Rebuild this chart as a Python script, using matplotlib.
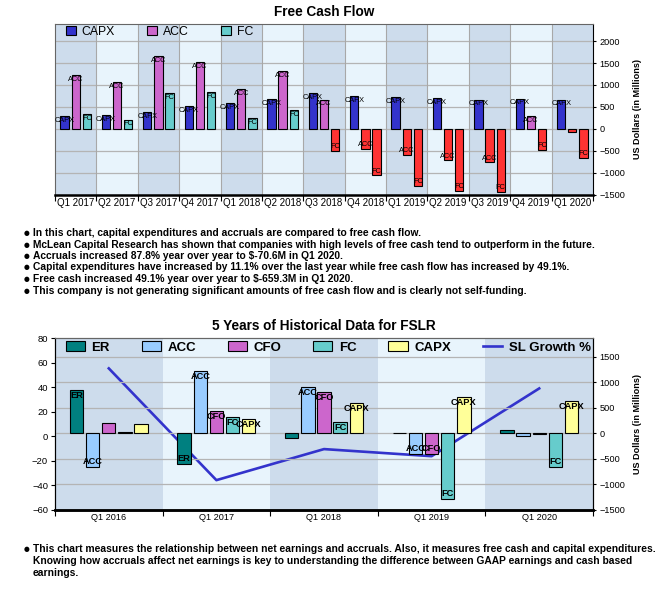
import numpy as np
import matplotlib
matplotlib.use("Agg")
import matplotlib.pyplot as plt
from matplotlib.patches import Patch
from matplotlib.lines import Line2D

plt.rcParams['font.family'] = ['Liberation Sans', 'DejaVu Sans']

# ---- data: free cash flow chart (US$ millions) ----
fcf_quarters = ['Q1 2017', 'Q2 2017', 'Q3 2017', 'Q4 2017', 'Q1 2018', 'Q2 2018', 'Q3 2018',
                'Q4 2018', 'Q1 2019', 'Q2 2019', 'Q3 2019', 'Q4 2019', 'Q1 2020']
fcf_capx = [290, 317, 385, 520, 588, 679, 815, 747, 724, 701, 663, 686, 663]
fcf_acc = [1222, 1063, 1652, 1516, 905, 1312, 663, -452, -588, -724, -769, 294, -70.6]
fcf_fc = [340, 204, 815, 837, 249, 430, -507, -1063, -1298, -1412, -1434, -484, -659.3]

# ---- data: 5 years of historical data ----
hist_periods = ['Q1 2016', 'Q1 2017', 'Q1 2018', 'Q1 2019', 'Q1 2020']
hist_er = [849, -604, -102, 0, 52]
hist_acc = [-662, 1210, 907, -405, -64]
hist_cfo = [187, 431, 797, -405, -25]
hist_fc = [10, 322, 218, -1293, -662]
hist_capx = [168, 276, 585, 714, 631]
sl_growth = [55.4, -36.0, -10.6, -16.4, 39.0]

top_notes = [
    "In this chart, capital expenditures and accruals are compared to free cash flow.",
    "McLean Capital Research has shown that companies with high levels of free cash tend to outperform in the future.",
    "Accruals increased 87.8% year over year to $-70.6M in Q1 2020.",
    "Capital expenditures have increased by 11.1% over the last year while free cash flow has increased by 49.1%.",
    "Free cash increased 49.1% year over year to $-659.3M in Q1 2020.",
    "This company is not generating significant amounts of free cash flow and is clearly not self-funding.",
]
bottom_note = ["This chart measures the relationship between net earnings and accruals. Also, it measures free cash and capital expenditures.",
               "Knowing how accruals affect net earnings is key to understanding the difference between GAAP earnings and cash based",
               "earnings."]

W, H = 661, 597
DARK, LIGHT = '#cddcec', '#e8f4fc'
GRID = '#b4b4b4'
NOTE_SIZE = 7.4

fig = plt.figure(figsize=(W / 100, H / 100), dpi=100)


def stripes(ax, n):
    for i in range(n):
        ax.axvspan(i, i + 1, color=DARK if i % 2 == 0 else LIGHT, zorder=0, lw=0)


def bar_labels(ax, xs, vals, name, thresh, off, **kw):
    for xi, v in zip(xs, vals):
        if abs(v) < thresh:
            continue
        ax.annotate(name, (xi, v), xytext=(0, -off if v > 0 else off), textcoords='offset points',
                    ha='center', va='center', zorder=5, **kw)


# ================= top chart =================
ax1 = fig.add_axes([55 / W, 1 - 194.5 / H, 538 / W, 170.5 / H])
n = len(fcf_quarters)
x = np.arange(n) + 0.5
stripes(ax1, n)
for b in range(1, n):
    ax1.axvline(b, color='#a8a8a8', lw=0.8, zorder=0.6)
ax1.set_axisbelow(True)
ax1.yaxis.grid(True, color=GRID, lw=0.9)

red = '#ff3333'
series = [(fcf_capx, 'CAPX', '#3333cc', -0.27), (fcf_acc, 'ACC', '#cc66cc', 0.0), (fcf_fc, 'FC', '#66cccc', 0.27)]
for vals, name, col, off in series:
    cols = [col if v >= 0 else red for v in vals]
    ax1.bar(x + off, vals, 0.2, color=cols, edgecolor='black', lw=0.8, zorder=3)
    bar_labels(ax1, x + off, vals, name, 100, 3, fontsize=5.3)

ax1.set_xlim(0, n)
ax1.set_ylim(-1500, 2390)
ax1.yaxis.tick_right()
ax1.set_yticks(np.arange(-1500, 2001, 500))
ax1.tick_params(axis='y', labelsize=6.6, length=2.5, pad=2)
ax1.yaxis.set_label_position('right')
ax1.set_ylabel('US Dollars (in Millions)', fontsize=6.6, fontweight='bold', labelpad=6)
ax1.set_xticks(np.arange(n + 1))
ax1.set_xticklabels([])
ax1.set_xticks(x, minor=True)
ax1.set_xticklabels(fcf_quarters, minor=True, fontsize=7)
ax1.tick_params(axis='x', which='major', length=4)
ax1.tick_params(axis='x', which='minor', length=0, pad=2.5)
for s in ['left', 'top']:
    ax1.spines[s].set_color('#666666')
    ax1.spines[s].set_linewidth(0.8)
ax1.spines['right'].set_linewidth(0.8)
ax1.spines['bottom'].set_linewidth(1.8)

h1 = [Patch(fc=c, ec='black', lw=0.8) for _, _, c, _ in series]
ax1.legend(h1, [s[1] for s in series], loc='center left', bbox_to_anchor=(10.7 / 538, 1 - 7.7 / 170.5),
           ncol=3, frameon=False, fontsize=8.8, handlelength=0.82, handleheight=0.82,
           handletextpad=0.5, columnspacing=2.6, borderpad=0, borderaxespad=0)

fig.text(324 / W, 1 - 12 / H, 'Free Cash Flow', ha='center', va='center', fontsize=9.8, fontweight='bold')

for i, line in enumerate(top_notes):
    y = 1 - (233 + i * 11.5) / H
    fig.text(27 / W, y, '\u25cf', ha='center', va='center', fontsize=4.8, family='DejaVu Sans')
    fig.text(33 / W, y, line, ha='left', va='center', fontsize=NOTE_SIZE, fontweight='bold')

# ================= bottom chart =================
ax2 = fig.add_axes([55 / W, 1 - 509.5 / H, 538 / W, 171.2 / H])
m = len(hist_periods)
xh = np.arange(m) + 0.5
stripes(ax2, m)
ax2.plot(xh, sl_growth, color='#3333cc', lw=1.9, zorder=2)
ax2.set_xlim(0, m)
ax2.set_ylim(-60, 80)
ax2.set_yticks(np.arange(-60, 81, 20))
ax2.tick_params(axis='y', labelsize=6.8, length=3, pad=2)
ax2.set_xticks(np.arange(m + 1))
ax2.set_xticklabels([])
ax2.set_xticks(xh, minor=True)
ax2.set_xticklabels(hist_periods, minor=True, fontsize=6.6)
ax2.tick_params(axis='x', which='major', length=4)
ax2.tick_params(axis='x', which='minor', length=0, pad=2.5)

ax3 = ax2.twinx()
ax3.set_ylim(-1500, 1857)
ax3.set_yticks(np.arange(-1500, 1501, 500))
ax3.tick_params(axis='y', labelsize=6.6, length=2.5, pad=2)
ax3.set_axisbelow(True)
ax3.yaxis.grid(True, color=GRID, lw=0.9)
ax3.set_ylabel('US Dollars (in Millions)', fontsize=6.6, fontweight='bold', labelpad=6)

hist_series = [(hist_er, 'ER', '#008080'), (hist_acc, 'ACC', '#99ccff'), (hist_cfo, 'CFO', '#cc66cc'),
               (hist_fc, 'FC', '#66cccc'), (hist_capx, 'CAPX', '#ffff99')]
for k, (vals, name, col) in enumerate(hist_series):
    off = (k - 2) * 0.15
    ax3.bar(xh + off, vals, 0.124, color=col, edgecolor='black', lw=0.8, zorder=3)
    bar_labels(ax3, xh + off, vals, name, 200, 4, fontsize=6.7, fontweight='bold')

for a in (ax2, ax3):
    for s in ['left', 'right', 'top']:
        a.spines[s].set_linewidth(0.8)
    a.spines['top'].set_color('#666666')
    a.spines['bottom'].set_linewidth(1.8)

h2 = [Patch(fc=c, ec='black', lw=0.8) for _, _, c in hist_series]
h2.append(Line2D([], [], color='#3333cc', lw=1.9))
ax3.legend(h2, [s[1] for s in hist_series] + ['SL Growth %'], loc='center left',
           bbox_to_anchor=(10.7 / 538, 1 - 9 / 171.2), ncol=6, frameon=False,
           prop={'size': 9.5, 'weight': 'bold'}, handlelength=1.46, handleheight=0.76,
           handletextpad=0.5, columnspacing=2.4, borderpad=0, borderaxespad=0)

fig.text(324 / W, 1 - 326 / H, '5 Years of Historical Data for FSLR', ha='center', va='center',
         fontsize=9.8, fontweight='bold')

fig.text(27 / W, 1 - 549 / H, '\u25cf', ha='center', va='center', fontsize=4.8, family='DejaVu Sans')
for i, line in enumerate(bottom_note):
    fig.text(33 / W, 1 - (549 + i * 12) / H, line, ha='left', va='center', fontsize=NOTE_SIZE, fontweight='bold')

fig.savefig('out.png', dpi=100)
